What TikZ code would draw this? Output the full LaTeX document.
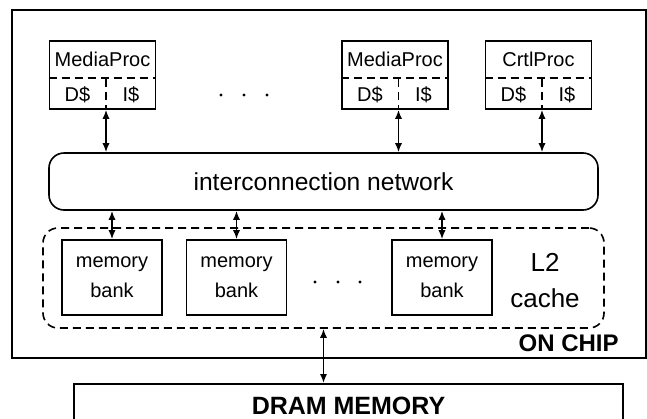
\documentclass[tikz,border=0pt]{standalone}
\usepackage{fontspec}
\setmainfont{Liberation Sans}
\usetikzlibrary{arrows.meta,positioning}

\tikzset{
  box/.style={draw, line width=0.8pt, inner sep=0pt},
  link/.style={line width=0.8pt, {Latex[length=4.5pt,width=3.6pt]}-{Latex[length=4.5pt,width=3.6pt]}},
  cut/.style={line width=0.8pt, dash pattern=on 4pt off 2.5pt},
  small/.style={font=\fontsize{10}{15}\selectfont},
}

\begin{document}
\begin{tikzpicture}[x=0.5pt,y=-0.5pt]
  \clip (0,0) rectangle (647,418);
  % chip outline
  \node[box, minimum width=317pt, minimum height=174pt] (chip) at (329,184) {};
  \node[font=\bfseries\fontsize{12}{14}\selectfont, anchor=east, inner sep=0pt] (onchip) at (619,343) {ON CHIP};

  % processors
  \foreach \pname/\pxx/\plabel in {mp1/102.5/MediaProc, mp2/395/MediaProc, cp/538.5/CrtlProc}{
    \node[box, minimum width=53pt, minimum height=34pt] (\pname) at (\pxx,75) {};
    \node[small] (\pname-t) at ([yshift=8pt]\pname.center) {\plabel};
    \node[small] (\pname-d) at ([xshift=-12.5pt,yshift=-10pt]\pname.center) {D\$};
    \node[small] (\pname-i) at ([xshift=14.25pt,yshift=-10pt]\pname.center) {I\$};
    \draw[cut] ([yshift=-19pt]\pname.north west) -- ([yshift=-19pt]\pname.north east);
    \coordinate (\pname-s) at ([xshift=1.75pt]\pname.south);
    \draw[cut] (\pname-s |- 0,79) -- (\pname-s);
  }
  \foreach \x in {221,244,267} \fill (\x,95) circle (0.8pt);

  % network
  \node[box, rounded corners=7.5pt, minimum width=274.5pt, minimum height=28.5pt,
        font=\fontsize{12.3}{14}\selectfont] (net) at (323.5,181.5) {interconnection network};
  \foreach \pname in {mp1,mp2,cp}
    \draw[link] (\pname-s) -- (\pname-s |- net.north);

  % L2 cache
  \node[box, cut, rounded corners=7.5pt, minimum width=280.5pt, minimum height=50pt] (l2) at (323.5,278) {};
  \node[box, small, align=center, minimum width=50pt, minimum height=37.5pt] (bank1) at (112,277.5) {memory\\bank};
  \node[box, small, align=center, minimum width=50pt, minimum height=37.5pt] (bank2) at (236.5,277.5) {memory\\bank};
  \node[box, small, align=center, minimum width=50pt, minimum height=37.5pt] (bank3) at (442,277.5) {memory\\bank};
  \foreach \x in {315,338,360} \fill (\x,282) circle (0.8pt);
  \node[font=\fontsize{13}{18}\selectfont, align=center] (l2txt) at (545,281) {L2\\cache};
  \foreach \b in {bank1,bank2,bank3}
    \draw[link] (net.south -| \b.north) -- (\b.north);

  % off chip
  \node[box, minimum width=274.5pt, minimum height=24pt, anchor=north] (dram) at (348.5,383) {};
  \node[font=\bfseries\fontsize{12.5}{15}\selectfont, inner sep=0pt] (dramtxt) at (348.5,406) {DRAM MEMORY};
  \draw[link] (l2.south) -- (l2.south |- dram.north);
\end{tikzpicture}
\end{document}
